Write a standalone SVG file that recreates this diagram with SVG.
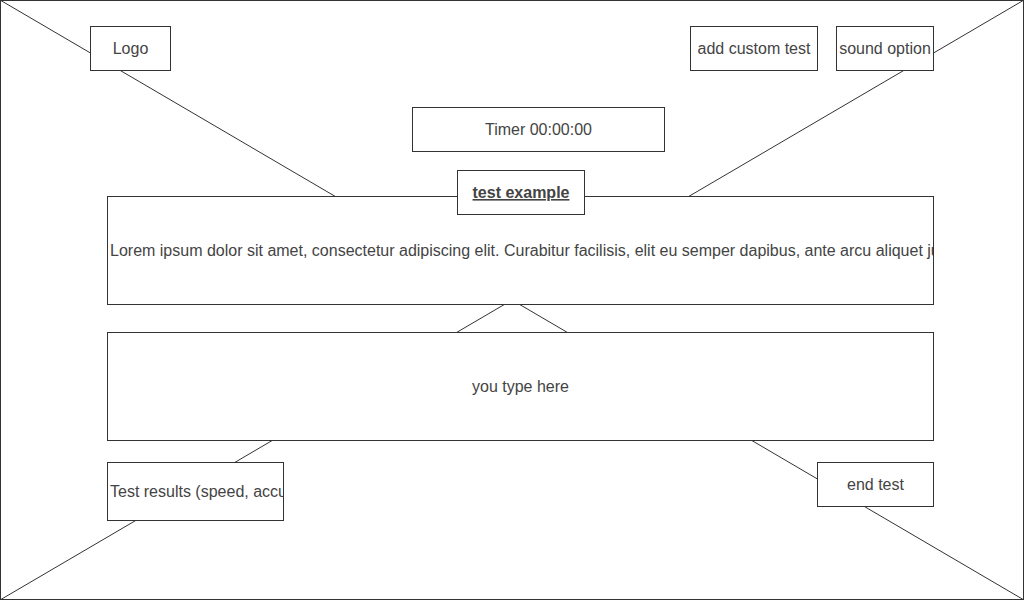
<svg xmlns="http://www.w3.org/2000/svg" width="1024" height="600" viewBox="0 0 1024 600">
<style>
.box{fill:#ffffff;stroke:#333333;stroke-width:1}
.line{stroke:#333333;stroke-width:1;fill:none}
text{font-family:"Liberation Sans",Arial,sans-serif;font-size:16px;fill:#444444}
.c{text-anchor:middle}
.b{font-weight:bold;text-decoration:underline}
</style>
<defs>
<clipPath id="clipLorem"><rect x="108" y="197" width="825" height="107"/></clipPath>
<clipPath id="clipResults"><rect x="108" y="463" width="175" height="57"/></clipPath>
</defs>
<g id="frame">
<rect class="box" x="0.5" y="0.5" width="1023" height="599"/>
</g>
<g id="connectors">
<line class="line" x1="0" y1="0" x2="1024" y2="600"/>
<line class="line" x1="1024" y1="0" x2="0" y2="600"/>
</g>
<g id="logo">
<rect class="box" x="90.5" y="26.5" width="80" height="44"/>
<text class="c" x="130.5" y="54">Logo</text>
</g>
<g id="add-custom-test">
<rect class="box" x="690.5" y="26.5" width="127" height="44"/>
<text class="c" x="754" y="54">add custom test</text>
</g>
<g id="sound-option">
<rect class="box" x="836.5" y="26.5" width="97" height="44"/>
<text class="c" x="885" y="54">sound option</text>
</g>
<g id="timer">
<rect class="box" x="412.5" y="107.5" width="252" height="44"/>
<text class="c" x="538.5" y="135">Timer 00:00:00</text>
</g>
<g id="lorem">
<rect class="box" x="107.5" y="196.5" width="826" height="108"/>
<text x="110" y="256" clip-path="url(#clipLorem)">Lorem ipsum dolor sit amet, consectetur adipiscing elit. Curabitur facilisis, elit eu semper dapibus, ante arcu aliquet justo</text>
</g>
<g id="test-example">
<rect class="box" x="457.5" y="170.5" width="127" height="44"/>
<text class="c b" x="521" y="198">test example</text>
</g>
<g id="you-type-here">
<rect class="box" x="107.5" y="332.5" width="826" height="108"/>
<text class="c" x="520.5" y="392">you type here</text>
</g>
<g id="test-results">
<rect class="box" x="107.5" y="462.5" width="176" height="58"/>
<text x="110" y="497" clip-path="url(#clipResults)">Test results (speed, accuracy)</text>
</g>
<g id="end-test">
<rect class="box" x="817.5" y="462.5" width="116" height="44"/>
<text class="c" x="875.5" y="490">end test</text>
</g>
</svg>
